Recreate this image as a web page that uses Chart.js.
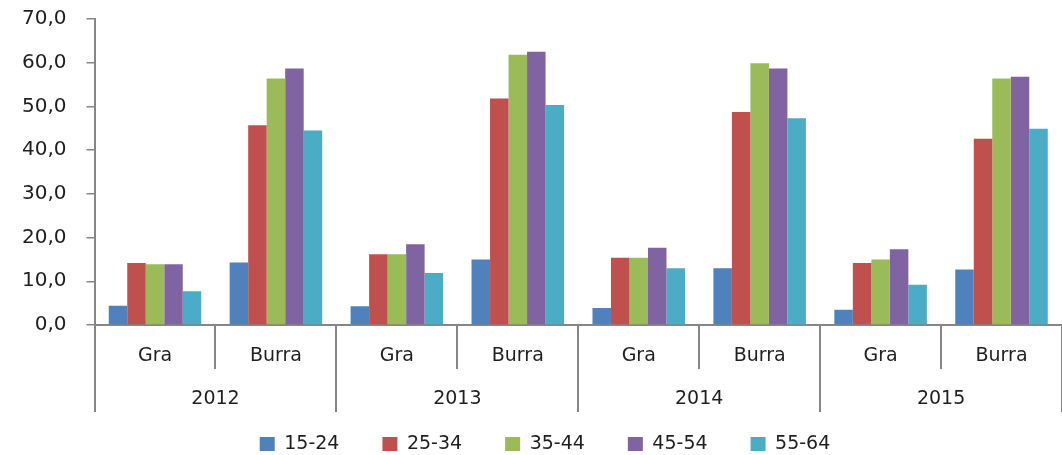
<!DOCTYPE html>
<html>
<head>
<meta charset="utf-8">
<script src="https://cdn.jsdelivr.net/npm/chart.js@4/dist/chart.umd.min.js"></script>
<style>
  html, body { margin: 0; padding: 0; background: #fff; }
  #wrap { width: 1062px; height: 455px; position: relative; }
</style>
</head>
<body>
<div id="wrap"><canvas id="chart"></canvas></div>
<script>
// Etichette delle categorie (due livelli)
const subLabels = ['Gra', 'Burra', 'Gra', 'Burra', 'Gra', 'Burra', 'Gra', 'Burra'];
const years = ['2012', '2013', '2014', '2015'];

// Serie per classe di età
const s1524 = [4.4, 14.3, 4.3, 15.0, 3.9, 13.0, 3.5, 12.7];
const s2534 = [14.2, 45.7, 16.2, 51.8, 15.4, 48.7, 14.2, 42.6];
const s3544 = [13.9, 56.4, 16.2, 61.8, 15.4, 59.9, 15.0, 56.4];
const s4554 = [13.9, 58.7, 18.5, 62.5, 17.7, 58.7, 17.3, 56.8];
const s5564 = [7.7, 44.5, 11.9, 50.3, 13.0, 47.3, 9.2, 44.9];

const axisGray = '#868686';
const textColor = '#1f1f1f';

function ds(label, data, color) {
  return {
    label: label,
    data: data,
    backgroundColor: color,
    borderWidth: 0,
    barPercentage: 1,
    categoryPercentage: 0.765
  };
}

// Linee verticali di separazione sotto l'asse x
const separators = {
  id: 'separators',
  afterDraw(chart) {
    const x = chart.scales.x;
    const ctx = chart.ctx;
    const half = (x.getPixelForValue(1) - x.getPixelForValue(0)) / 2;
    ctx.save();
    ctx.strokeStyle = axisGray;
    ctx.lineWidth = 2;
    for (let i = 0; i <= subLabels.length; i++) {
      const px = Math.round(x.getPixelForValue(i) - half);
      const len = i % 2 === 0 ? 87 : 44;
      ctx.beginPath();
      ctx.moveTo(px, x.top);
      ctx.lineTo(px, x.top + len);
      ctx.stroke();
    }
    ctx.restore();
  }
};

// La legenda sale un po' verso l'asse, come nell'originale
const legendShift = {
  id: 'legendShift',
  afterLayout(chart) {
    const lg = chart.legend;
    lg.top -= 19;
    lg.bottom -= 19;
    lg.left += 13;
    lg.right += 13;
  }
};

new Chart(document.getElementById('chart'), {
  type: 'bar',
  data: {
    labels: subLabels,
    datasets: [
      ds('15-24', s1524, '#4F81BD'),
      ds('25-34', s2534, '#C0504D'),
      ds('35-44', s3544, '#9BBB59'),
      ds('45-54', s4554, '#8064A2'),
      ds('55-64', s5564, '#4BACC6')
    ]
  },
  options: {
    responsive: true,
    maintainAspectRatio: false,
    animation: false,
    layout: {
      padding: { top: 19, left: 2, right: 0, bottom: -27.6 }
    },
    plugins: {
      tooltip: { enabled: false },
      legend: {
        position: 'bottom',
        labels: {
          boxWidth: 15,
          boxHeight: 14,
          padding: 43,
          color: textColor,
          font: { family: 'DejaVu Sans', size: 19 }
        }
      }
    },
    scales: {
      x: {
        offset: true,
        grid: { display: true, drawOnChartArea: false, drawTicks: false, offset: true, color: 'rgba(0,0,0,0)' },
        border: { display: true, color: axisGray, width: 2 },
        ticks: {
          padding: 20,
          color: textColor,
          font: { family: 'DejaVu Sans', size: 19 }
        }
      },
      x2: {
        type: 'category',
        position: 'bottom',
        labels: years,
        offset: true,
        grid: { display: false, drawTicks: false },
        border: { display: false },
        ticks: {
          padding: 0,
          color: textColor,
          font: { family: 'DejaVu Sans', size: 19 }
        }
      },
      y: {
        min: 0,
        max: 70,
        ticks: {
          stepSize: 10,
          padding: 20,
          color: textColor,
          font: { family: 'DejaVu Sans', size: 20 },
          callback: (v) => v.toFixed(1).replace('.', ',')
        },
        grid: { drawOnChartArea: false, tickLength: 8, color: axisGray, lineWidth: 1.5 },
        border: { display: true, color: axisGray, width: 2 },
        afterFit(scale) {
          scale.paddingTop = 0;
          scale.paddingBottom = 0;
        }
      }
    }
  },
  plugins: [separators, legendShift]
});
</script>
</body>
</html>
